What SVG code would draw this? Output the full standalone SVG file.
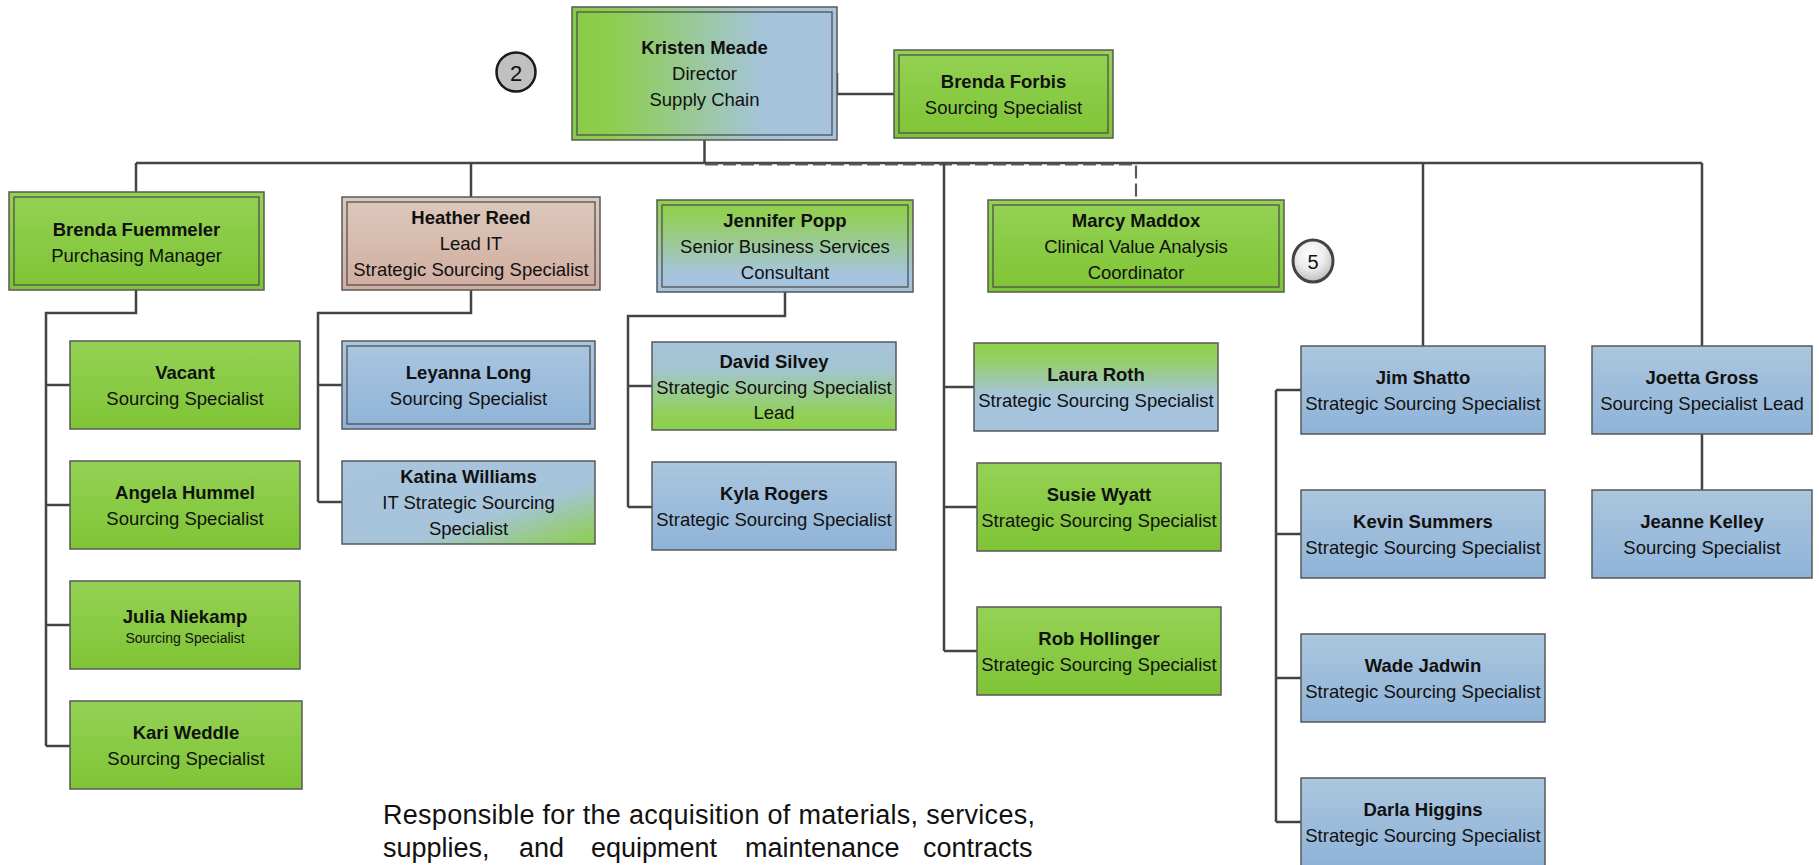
<svg xmlns="http://www.w3.org/2000/svg" width="1819" height="865" viewBox="0 0 1819 865">
<style>
.box{stroke:#585858;stroke-width:1.5}
.inner{fill:none;stroke:#505050;stroke-width:1.3}
.t{font-family:"Liberation Sans",Arial,sans-serif;font-size:18.5px;text-anchor:middle;fill:#111}
.b{font-weight:bold}
.sm{font-size:14px}
.conn{fill:none;stroke:#444;stroke-width:2.5}
.dash{fill:none;stroke:#5a5a5a;stroke-width:2.2;stroke-dasharray:13 5}
.desc{font-family:"Liberation Sans",Arial,sans-serif;font-size:27px;fill:#111}
</style>
<defs>
<linearGradient id="gGreen" x1="0" y1="0" x2="0" y2="1"><stop offset="0" stop-color="#94d254"/><stop offset="1" stop-color="#7fc435"/></linearGradient>
<linearGradient id="gBlue" x1="0" y1="0" x2="0" y2="1"><stop offset="0" stop-color="#abc6de"/><stop offset="1" stop-color="#8fb3d8"/></linearGradient>
<linearGradient id="gKristen" x1="0" y1="0" x2="1" y2="0"><stop offset="0" stop-color="#88cc45"/><stop offset="0.15" stop-color="#8dce4f"/><stop offset="0.72" stop-color="#a5c4da"/><stop offset="1" stop-color="#a7c3dd"/></linearGradient>
<linearGradient id="gJen" x1="0" y1="0" x2="0" y2="1"><stop offset="0" stop-color="#90d04e"/><stop offset="0.15" stop-color="#92cf55"/><stop offset="0.8" stop-color="#a6c4dc"/><stop offset="1" stop-color="#a4c2dc"/></linearGradient>
<linearGradient id="gDavid" x1="0" y1="0" x2="0" y2="1"><stop offset="0" stop-color="#a6c3dc"/><stop offset="0.3" stop-color="#a3c5d2"/><stop offset="0.85" stop-color="#91d052"/><stop offset="1" stop-color="#8ecf4d"/></linearGradient>
<linearGradient id="gLaura" x1="0" y1="0" x2="0" y2="1"><stop offset="0" stop-color="#90d04e"/><stop offset="0.15" stop-color="#94cf5a"/><stop offset="0.6" stop-color="#a6c4dc"/><stop offset="1" stop-color="#a5c2dc"/></linearGradient>
<linearGradient id="gKatina" x1="0" y1="0" x2="1" y2="1"><stop offset="0" stop-color="#a8c4de"/><stop offset="0.62" stop-color="#a6c4da"/><stop offset="1" stop-color="#8ccf4a"/></linearGradient>
<linearGradient id="gHeather" x1="0" y1="0" x2="0" y2="1"><stop offset="0" stop-color="#dcc9bc"/><stop offset="1" stop-color="#d1ada0"/></linearGradient>
<radialGradient id="gBadge" cx="0.45" cy="0.35" r="0.7"><stop offset="0" stop-color="#ffffff"/><stop offset="0.5" stop-color="#ececec"/><stop offset="1" stop-color="#b5b5b5"/></radialGradient>
</defs>
<rect width="1819" height="865" fill="#ffffff"/>

<g id="connectors">
<path class="conn" d="M704.5 140 V163"/>
<path class="conn" d="M136 163 H1702"/>
<path class="dash" d="M705 164.5 H1136 V200"/>
<path class="conn" d="M136 163 V192"/>
<path class="conn" d="M471 163 V197"/>
<path class="conn" d="M837 73 V94 H894"/>
<path class="conn" d="M944 163 V651 M944 387 H974 M944 507 H977 M944 651 H977" stroke-width="2"/>
<path class="conn" d="M1423 163 V346"/>
<path class="conn" d="M1702 163 V346 M1702 434 V490"/>
<path class="conn" d="M136 290 V313 H46 V746 M46 385 H70 M46 505 H70 M46 625 H70 M46 746 H70"/>
<path class="conn" d="M471 290 V313 H318 V502 M318 385 H342 M318 502 H342"/>
<path class="conn" d="M785 292 V316 H628 V507 M628 386 H652 M628 507 H652"/>
<path class="conn" d="M1276 390 V822 M1276 390 H1301 M1276 534 H1301 M1276 678 H1301 M1276 822 H1301"/>
</g>

<g id="badge2">
<circle cx="516" cy="72" r="19.5" fill="#c0c0c0" stroke="#1a1a1a" stroke-width="2.5"/>
<text x="516" y="80.5" font-family="Liberation Sans,Arial,sans-serif" font-size="22" text-anchor="middle" fill="#111">2</text>
</g>

<g id="badge5">
<ellipse cx="1313" cy="261" rx="20" ry="21" fill="url(#gBadge)" stroke="#444" stroke-width="3"/>
<text x="1313" y="268.5" font-family="Liberation Sans,Arial,sans-serif" font-size="20" text-anchor="middle" fill="#111">5</text>
</g>

<g id="kristen">
<rect class="box" x="572" y="7" width="265" height="133" fill="url(#gKristen)"/>
<rect class="inner" x="577" y="12" width="255" height="123"/>
<text class="t b" x="704.5" y="54">Kristen Meade</text>
<text class="t" x="704.5" y="80">Director</text>
<text class="t" x="704.5" y="106">Supply Chain</text>
</g>

<g id="forbis">
<rect class="box" x="894" y="50" width="219" height="88" fill="url(#gGreen)"/>
<rect class="inner" x="899" y="55" width="209" height="78"/>
<text class="t b" x="1003.5" y="87.5">Brenda Forbis</text>
<text class="t" x="1003.5" y="113.5">Sourcing Specialist</text>
</g>

<g id="fuemmeler">
<rect class="box" x="9" y="192" width="255" height="98" fill="url(#gGreen)"/>
<rect class="inner" x="14" y="197" width="245" height="88"/>
<text class="t b" x="136.5" y="235.5">Brenda Fuemmeler</text>
<text class="t" x="136.5" y="261.5">Purchasing Manager</text>
</g>

<g id="heather">
<rect class="box" x="342" y="197" width="258" height="93" fill="url(#gHeather)" stroke="#7a6359"/>
<rect class="inner" x="347" y="202" width="248" height="83"/>
<text class="t b" x="471" y="224">Heather Reed</text>
<text class="t" x="471" y="250">Lead IT</text>
<text class="t" x="471" y="276">Strategic Sourcing Specialist</text>
</g>

<g id="jennifer">
<rect class="box" x="657" y="200" width="256" height="92" fill="url(#gJen)"/>
<rect class="inner" x="662" y="205" width="246" height="82"/>
<text class="t b" x="785" y="226.5">Jennifer Popp</text>
<text class="t" x="785" y="252.5">Senior Business Services</text>
<text class="t" x="785" y="278.5">Consultant</text>
</g>

<g id="marcy">
<rect class="box" x="988" y="200" width="296" height="92" fill="url(#gGreen)"/>
<rect class="inner" x="993" y="205" width="286" height="82"/>
<text class="t b" x="1136" y="226.5">Marcy Maddox</text>
<text class="t" x="1136" y="252.5">Clinical Value Analysis</text>
<text class="t" x="1136" y="278.5">Coordinator</text>
</g>

<g id="vacant">
<rect class="box" x="70" y="341" width="230" height="88" fill="url(#gGreen)"/>
<text class="t b" x="185" y="378.5">Vacant</text>
<text class="t" x="185" y="404.5">Sourcing Specialist</text>
</g>

<g id="angela">
<rect class="box" x="70" y="461" width="230" height="88" fill="url(#gGreen)"/>
<text class="t b" x="185" y="498.5">Angela Hummel</text>
<text class="t" x="185" y="524.5">Sourcing Specialist</text>
</g>

<g id="julia">
<rect class="box" x="70" y="581" width="230" height="88" fill="url(#gGreen)"/>
<text class="t b" x="185" y="622.5">Julia Niekamp</text>
<text class="t sm" x="185" y="643">Sourcing Specialist</text>
</g>

<g id="kari">
<rect class="box" x="70" y="701" width="232" height="88" fill="url(#gGreen)"/>
<text class="t b" x="186" y="738.5">Kari Weddle</text>
<text class="t" x="186" y="764.5">Sourcing Specialist</text>
</g>

<g id="leyanna">
<rect class="box" x="342" y="341" width="253" height="88" fill="url(#gBlue)" stroke="#6d88a8"/>
<rect class="inner" x="347" y="346" width="243" height="78"/>
<text class="t b" x="468.5" y="378.5">Leyanna Long</text>
<text class="t" x="468.5" y="404.5">Sourcing Specialist</text>
</g>

<g id="katina">
<rect class="box" x="342" y="461" width="253" height="83" fill="url(#gKatina)"/>
<text class="t b" x="468.5" y="483">Katina Williams</text>
<text class="t" x="468.5" y="509">IT Strategic Sourcing</text>
<text class="t" x="468.5" y="535">Specialist</text>
</g>

<g id="david">
<rect class="box" x="652" y="342" width="244" height="88" fill="url(#gDavid)"/>
<text class="t b" x="774" y="368">David Silvey</text>
<text class="t" x="774" y="393.5">Strategic Sourcing Specialist</text>
<text class="t" x="774" y="419">Lead</text>
</g>

<g id="kyla">
<rect class="box" x="652" y="462" width="244" height="88" fill="url(#gBlue)"/>
<text class="t b" x="774" y="499.5">Kyla Rogers</text>
<text class="t" x="774" y="525.5">Strategic Sourcing Specialist</text>
</g>

<g id="laura">
<rect class="box" x="974" y="343" width="244" height="88" fill="url(#gLaura)"/>
<text class="t b" x="1096" y="380.5">Laura Roth</text>
<text class="t" x="1096" y="406.5">Strategic Sourcing Specialist</text>
</g>

<g id="susie">
<rect class="box" x="977" y="463" width="244" height="88" fill="url(#gGreen)"/>
<text class="t b" x="1099" y="500.5">Susie Wyatt</text>
<text class="t" x="1099" y="526.5">Strategic Sourcing Specialist</text>
</g>

<g id="rob">
<rect class="box" x="977" y="607" width="244" height="88" fill="url(#gGreen)"/>
<text class="t b" x="1099" y="644.5">Rob Hollinger</text>
<text class="t" x="1099" y="670.5">Strategic Sourcing Specialist</text>
</g>

<g id="jim">
<rect class="box" x="1301" y="346" width="244" height="88" fill="url(#gBlue)"/>
<text class="t b" x="1423" y="383.5">Jim Shatto</text>
<text class="t" x="1423" y="409.5">Strategic Sourcing Specialist</text>
</g>

<g id="kevin">
<rect class="box" x="1301" y="490" width="244" height="88" fill="url(#gBlue)"/>
<text class="t b" x="1423" y="527.5">Kevin Summers</text>
<text class="t" x="1423" y="553.5">Strategic Sourcing Specialist</text>
</g>

<g id="wade">
<rect class="box" x="1301" y="634" width="244" height="88" fill="url(#gBlue)"/>
<text class="t b" x="1423" y="671.5">Wade Jadwin</text>
<text class="t" x="1423" y="697.5">Strategic Sourcing Specialist</text>
</g>

<g id="darla">
<rect class="box" x="1301" y="778" width="244" height="88" fill="url(#gBlue)"/>
<text class="t b" x="1423" y="815.5">Darla Higgins</text>
<text class="t" x="1423" y="841.5">Strategic Sourcing Specialist</text>
</g>

<g id="joetta">
<rect class="box" x="1592" y="346" width="220" height="88" fill="url(#gBlue)"/>
<text class="t b" x="1702" y="383.5">Joetta Gross</text>
<text class="t" x="1702" y="409.5">Sourcing Specialist Lead</text>
</g>

<g id="jeanne">
<rect class="box" x="1592" y="490" width="220" height="88" fill="url(#gBlue)"/>
<text class="t b" x="1702" y="527.5">Jeanne Kelley</text>
<text class="t" x="1702" y="553.5">Sourcing Specialist</text>
</g>

<g id="description">
<text class="desc" x="383" y="824" textLength="652" lengthAdjust="spacing">Responsible for the acquisition of materials, services,</text>
<text class="desc" y="857"><tspan x="383">supplies,</tspan><tspan x="519">and</tspan><tspan x="591">equipment</tspan><tspan x="745">maintenance</tspan><tspan x="923">contracts</tspan></text>
</g>
</svg>
